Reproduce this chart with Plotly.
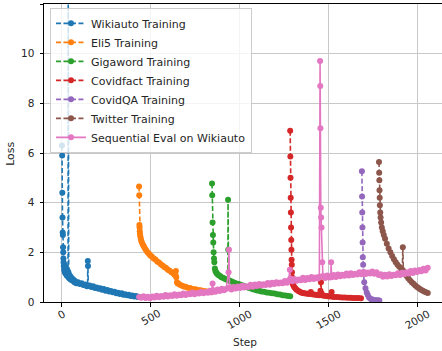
import plotly.graph_objects as go

# (step, loss) logs for each training stage
wikiauto_train = [
    (0, 6.3), (1, 5.9), (2, 4.4), (3, 3.4), (4, 2.8), (5, 2.7), (6, 2.2), (7, 2.0),
    (8, 1.75), (9, 1.6), (10, 1.45), (12, 1.3), (14, 1.5), (16, 1.2), (18, 1.38),
    (20, 1.15), (22, 1.4), (24, 1.18), (26, 1.08), (28, 1.3), (30, 1.05), (32, 1.25),
    (34, 1.15), (35, 12.6), (36, 1.2), (38, 0.98), (40, 1.1), (43, 0.95), (46, 1.05),
    (50, 0.9), (55, 0.97), (60, 0.86), (65, 0.9), (70, 0.8), (75, 0.84), (80, 0.76),
    (90, 0.8), (100, 0.72), (110, 0.76), (120, 0.68), (130, 0.7), (140, 0.63),
    (144, 0.66), (145, 1.65), (146, 1.45), (148, 0.64), (155, 0.66), (165, 0.6),
    (175, 0.63), (185, 0.56), (195, 0.58), (205, 0.53), (215, 0.55), (225, 0.49),
    (235, 0.52), (245, 0.45), (255, 0.48), (265, 0.42), (275, 0.44), (285, 0.39),
    (295, 0.41), (305, 0.35), (315, 0.37), (325, 0.32), (335, 0.35), (345, 0.29),
    (355, 0.31), (365, 0.27), (375, 0.29), (385, 0.24), (395, 0.26), (405, 0.22),
    (415, 0.24), (425, 0.2), (430, 0.21),
]

eli5_train = [
    (433, 4.65), (434, 4.3), (435, 3.1), (436, 3.0), (437, 2.85), (438, 2.75),
    (440, 2.65), (443, 2.55), (446, 2.45), (450, 2.38), (455, 2.3), (460, 2.24),
    (466, 2.15), (472, 2.09), (480, 2.0), (488, 1.95), (496, 1.87), (505, 1.83),
    (515, 1.75), (525, 1.71), (535, 1.63), (545, 1.59), (555, 1.52), (565, 1.47),
    (575, 1.41), (585, 1.37), (595, 1.3), (605, 1.26), (615, 1.2), (625, 1.16),
    (632, 1.1), (638, 1.08), (640, 1.25), (642, 1.0), (646, 0.8), (650, 0.75),
    (656, 0.73), (665, 0.68), (675, 0.65), (685, 0.62), (695, 0.61), (705, 0.57),
    (720, 0.56), (735, 0.52), (750, 0.51), (765, 0.48), (780, 0.47), (795, 0.44),
    (810, 0.43), (825, 0.4), (840, 0.39),
]

gigaword_train = [
    (843, 4.77), (844, 4.3), (846, 3.2), (848, 2.7), (850, 2.4), (852, 2.0),
    (854, 1.75), (856, 1.6), (859, 1.35), (862, 1.25), (866, 1.2), (870, 1.15),
    (875, 1.12), (880, 1.08), (888, 1.05), (896, 1.0), (904, 0.98), (912, 0.95),
    (920, 0.92), (928, 0.9), (932, 0.9), (933, 4.12), (934, 2.1), (936, 0.88),
    (942, 0.86), (950, 0.84), (960, 0.81), (970, 0.77), (980, 0.75), (990, 0.72),
    (1000, 0.7), (1012, 0.67), (1024, 0.63), (1036, 0.61), (1048, 0.57), (1060, 0.55),
    (1072, 0.51), (1084, 0.49), (1096, 0.46), (1108, 0.45), (1120, 0.42), (1135, 0.41),
    (1150, 0.38), (1165, 0.37), (1180, 0.35), (1195, 0.34), (1210, 0.31), (1225, 0.3),
    (1240, 0.27), (1255, 0.26), (1270, 0.24), (1282, 0.23),
]

covidfact_train = [
    (1282, 6.9), (1283, 5.86), (1284, 5.0), (1285, 4.2), (1286, 3.6), (1287, 3.0),
    (1288, 2.5), (1289, 2.1), (1290, 1.7), (1291, 1.5), (1292, 1.2), (1293, 1.0),
    (1294, 0.85), (1296, 0.75), (1299, 0.68), (1303, 0.62), (1308, 0.57), (1314, 0.52),
    (1320, 0.48), (1328, 0.44), (1336, 0.41), (1344, 0.38), (1352, 0.36), (1360, 0.35),
    (1370, 0.34), (1380, 0.33), (1390, 0.32), (1398, 0.4), (1405, 0.31), (1415, 0.3),
    (1425, 0.29), (1435, 0.28), (1445, 0.27), (1452, 0.45), (1455, 0.8), (1458, 0.35),
    (1465, 0.26), (1475, 0.25), (1485, 0.24), (1495, 0.23), (1505, 0.22), (1515, 0.4),
    (1520, 0.21), (1530, 0.2), (1545, 0.2), (1560, 0.19), (1575, 0.18), (1590, 0.18),
    (1605, 0.17), (1620, 0.17), (1635, 0.16), (1650, 0.16), (1665, 0.16), (1680, 0.15),
]

covidqa_train = [
    (1685, 5.27), (1686, 4.25), (1687, 3.6), (1688, 3.0), (1689, 2.4), (1690, 1.8),
    (1692, 1.5), (1694, 1.2), (1698, 0.8), (1705, 0.55), (1712, 0.38), (1718, 0.28),
    (1725, 0.18), (1735, 0.12), (1745, 0.1), (1755, 0.08), (1765, 0.07), (1775, 0.07),
    (1783, 0.06),
]

twitter_train = [
    (1781, 5.64), (1782, 5.2), (1783, 4.9), (1784, 4.5), (1785, 4.2), (1786, 3.9),
    (1788, 3.6), (1790, 3.4), (1793, 3.2), (1797, 3.0), (1802, 2.85), (1808, 2.7),
    (1815, 2.55), (1825, 2.35), (1835, 2.15), (1845, 2.0), (1855, 1.85), (1865, 1.72),
    (1875, 1.6), (1885, 1.5), (1895, 1.42), (1905, 1.35), (1912, 1.3), (1915, 2.2),
    (1918, 1.25), (1925, 1.18), (1935, 1.06), (1945, 0.96), (1955, 0.88), (1965, 0.8),
    (1975, 0.73), (1985, 0.66), (1995, 0.6), (2005, 0.55), (2015, 0.5), (2025, 0.46),
    (2035, 0.42), (2045, 0.39), (2055, 0.36),
]

# Evaluation loss on Wikiauto, logged while the later tasks are trained
wikiauto_eval = [
    (433, 0.2), (445, 0.17), (458, 0.23), (470, 0.16), (482, 0.21), (495, 0.15),
    (508, 0.22), (520, 0.18), (532, 0.25), (545, 0.19), (558, 0.24), (570, 0.21),
    (582, 0.28), (595, 0.22), (608, 0.27), (620, 0.24), (632, 0.31), (645, 0.25),
    (658, 0.3), (670, 0.27), (682, 0.34), (695, 0.28), (708, 0.33), (720, 0.31),
    (732, 0.38), (745, 0.31), (758, 0.36), (770, 0.34), (782, 0.41), (795, 0.35),
    (808, 0.4), (820, 0.37), (832, 0.45), (840, 0.39), (846, 0.75), (850, 0.47),
    (862, 0.41), (874, 0.5), (886, 0.44), (898, 0.53), (910, 0.47), (922, 0.52),
    (936, 1.2), (938, 2.1), (941, 0.58), (952, 0.5), (964, 0.6), (976, 0.54),
    (988, 0.62), (1000, 0.56), (1012, 0.65), (1024, 0.58), (1036, 0.63), (1048, 0.6),
    (1060, 0.69), (1072, 0.61), (1084, 0.7), (1096, 0.64), (1108, 0.72), (1120, 0.66),
    (1132, 0.71), (1144, 0.68), (1156, 0.77), (1168, 0.69), (1180, 0.78), (1192, 0.72),
    (1204, 0.8), (1216, 0.74), (1228, 0.79), (1240, 0.76), (1252, 0.85), (1264, 0.78),
    (1274, 0.87), (1280, 1.3), (1283, 0.95), (1294, 0.84), (1306, 0.93), (1318, 0.86),
    (1330, 0.91), (1342, 0.88), (1354, 0.98), (1366, 0.89), (1378, 0.97), (1390, 0.92),
    (1402, 1.01), (1414, 0.93), (1426, 0.99), (1438, 0.95), (1446, 1.02), (1450, 9.7),
    (1451, 8.7), (1452, 7.0), (1454, 3.8), (1456, 3.4), (1458, 3.0), (1462, 1.6),
    (1466, 1.05), (1478, 0.97), (1490, 1.07), (1502, 0.99), (1510, 1.04), (1512, 1.6),
    (1515, 1.0), (1527, 1.09), (1539, 1.01), (1551, 1.11), (1563, 1.04), (1575, 1.1),
    (1587, 1.06), (1599, 1.15), (1611, 1.07), (1623, 1.16), (1635, 1.09), (1647, 1.14),
    (1659, 1.11), (1671, 1.2), (1683, 1.12), (1695, 1.21), (1707, 1.13), (1719, 1.19),
    (1731, 1.15), (1743, 1.23), (1755, 1.14), (1767, 1.2), (1779, 1.09), (1791, 1.12),
    (1803, 1.02), (1815, 1.1), (1827, 1.03), (1839, 1.12), (1851, 1.05), (1863, 1.1),
    (1875, 1.08), (1887, 1.16), (1899, 1.09), (1911, 1.18), (1923, 1.12), (1935, 1.2),
    (1947, 1.15), (1959, 1.25), (1971, 1.17), (1983, 1.27), (1995, 1.21), (2007, 1.29),
    (2019, 1.24), (2031, 1.34), (2043, 1.27), (2055, 1.38),
]

x_ticks = [0, 500, 1000, 1500, 2000]
y_ticks = [0, 2, 4, 6, 8, 10, 12]

DASH = "5px,2.5px"
series = [
    ("Wikiauto Training", wikiauto_train, "#1f77b4", DASH),
    ("Eli5 Training", eli5_train, "#ff7f0e", DASH),
    ("Gigaword Training", gigaword_train, "#2ca02c", DASH),
    ("Covidfact Training", covidfact_train, "#d62728", DASH),
    ("CovidQA Training", covidqa_train, "#9467bd", DASH),
    ("Twitter Training", twitter_train, "#8c564b", DASH),
    ("Sequential Eval on Wikiauto", wikiauto_eval, "#e377c2", "solid"),
]

FONT = "DejaVu Sans"
TXT = "#262626"

fig = go.Figure()
for name, pts, color, dash in series:
    steps = [p[0] for p in pts]
    loss = [p[1] for p in pts]
    fig.add_trace(go.Scatter(
        x=steps, y=loss, name=name, mode="lines+markers",
        line=dict(color=color, width=1.6, dash=dash),
        marker=dict(color=color, size=6),
    ))

axis_common = dict(
    showgrid=True, gridcolor="#c8c8c8", gridwidth=1,
    showline=True, linecolor="black", linewidth=1,
    ticks="outside", ticklen=3.5, tickcolor="black", tickwidth=1,
    zeroline=False, tickfont=dict(family=FONT, size=10.5, color=TXT),
)

# x tick labels: rotated 30 degrees and centred under each tick
x_labels = [
    dict(text=str(v), x=v, xref="x", y=-0.0085, yref="y domain",
         xanchor="center", yanchor="top", textangle=-30, showarrow=False,
         font=dict(family=FONT, size=10.5, color=TXT))
    for v in x_ticks
]

fig.update_layout(
    width=442, height=351,
    margin=dict(l=44, r=0, t=4, b=49),
    paper_bgcolor="white", plot_bgcolor="white",
    xaxis=dict(range=[-101, 2135], tickvals=x_ticks, showticklabels=False,
               mirror=True, **axis_common),
    yaxis=dict(range=[0, 12], tickvals=y_ticks, ticklabelstandoff=3,
               ticktext=[str(v) for v in y_ticks], **axis_common),
    legend=dict(x=0.015, y=0.987, xanchor="left", yanchor="top",
                bgcolor="rgba(255,255,255,0.8)", bordercolor="#cccccc",
                borderwidth=1, itemwidth=30,
                font=dict(family=FONT, size=11, color=TXT)),
    showlegend=True,
    annotations=x_labels + [
        dict(text="Step", xref="paper", yref="paper", x=0.505, y=-0.134,
             xanchor="center", yanchor="middle", showarrow=False,
             font=dict(family=FONT, size=10.5, color=TXT)),
        dict(text="Loss", xref="paper", yref="paper", x=-0.083, y=0.497,
             xanchor="center", yanchor="middle", textangle=-90, showarrow=False,
             font=dict(family=FONT, size=11, color=TXT)),
    ],
)

fig.write_html("out.html")
